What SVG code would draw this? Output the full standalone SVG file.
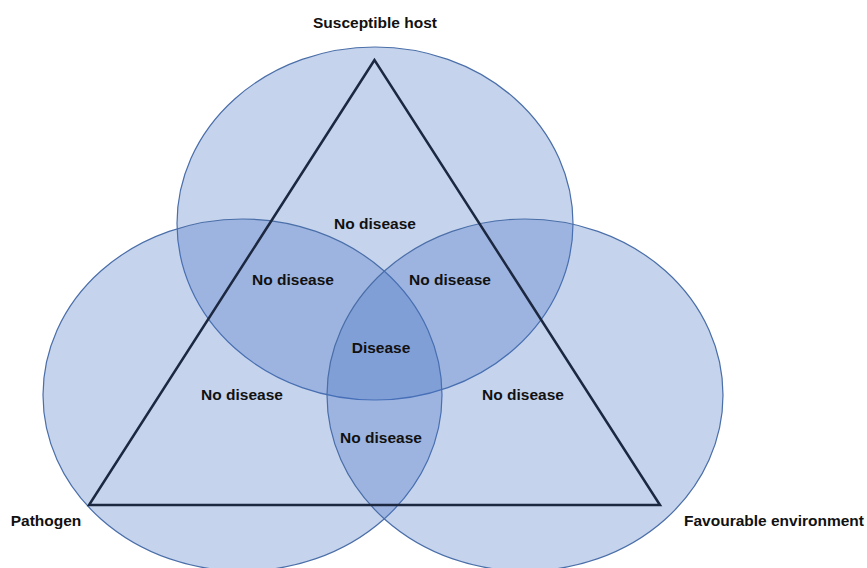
<svg xmlns="http://www.w3.org/2000/svg" width="867" height="568" viewBox="0 0 867 568">
<style>
.c{fill:#4472c4;fill-opacity:0.31;stroke:#4a6ea8;stroke-width:1.2}
.t{font-family:"Liberation Sans",Arial,sans-serif;font-weight:bold;font-size:15.5px;fill:#111;text-anchor:middle}
</style>
<rect width="867" height="568" fill="#fff"/>
<g id="host"><ellipse class="c" cx="375" cy="223.5" rx="198" ry="176.5"/></g>
<g id="pathogen"><ellipse class="c" cx="242.5" cy="395" rx="199.5" ry="176"/></g>
<g id="environment"><ellipse class="c" cx="525" cy="395" rx="198" ry="176"/></g>
<g id="connectors"><polygon points="374.5,60 89,505 660,505" fill="none" stroke="#1c2740" stroke-width="2.5" stroke-linejoin="miter"/></g>
<g id="labels">
<text class="t" x="375" y="28">Susceptible host</text>
<text class="t" x="46" y="526">Pathogen</text>
<text class="t" x="774" y="526">Favourable environment</text>
<text class="t" x="375" y="229">No disease</text>
<text class="t" x="293" y="285">No disease</text>
<text class="t" x="450" y="285">No disease</text>
<text class="t" x="381" y="353">Disease</text>
<text class="t" x="242" y="400">No disease</text>
<text class="t" x="523" y="400">No disease</text>
<text class="t" x="381" y="443">No disease</text>
</g>
</svg>
